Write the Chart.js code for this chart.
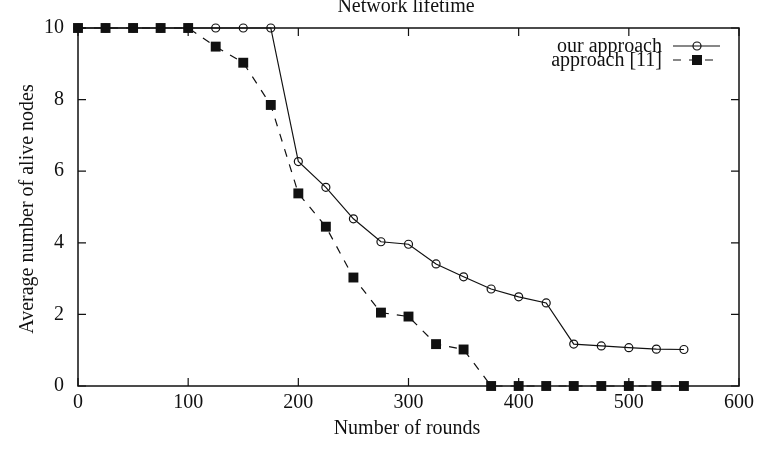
<!DOCTYPE html>
<html>
<head>
<meta charset="utf-8">
<script src="https://cdn.jsdelivr.net/npm/chart.js@4/dist/chart.umd.min.js"></script>
<style>
html,body{margin:0;padding:0;background:#fff;}
canvas{display:block;}
</style>
</head>
<body>
<canvas id="c" width="759" height="473"></canvas>
<script>
// ---- data ----
const rounds = [0,25,50,75,100,125,150,175,200,225,250,275,300,325,350,375,400,425,450,475,500,525,550];
const ourApproach = [10,10,10,10,10,10,10,10,6.27,5.55,4.67,4.03,3.96,3.41,3.05,2.71,2.49,2.32,1.17,1.12,1.07,1.03,1.02];
const approach11 = [10,10,10,10,10,9.48,9.03,7.85,5.38,4.45,3.03,2.05,1.94,1.17,1.02,0,0,0,0,0,0,0,0];
const seriesNames = ['our approach', 'approach [11]'];
const xTicks = [0,100,200,300,400,500,600];
const yTicks = [0,2,4,6,8,10];
const titleText = 'Network lifetime';
const xTitle = 'Number of rounds';
const yTitle = 'Average number of alive nodes';

const FONT = '"Liberation Serif", "Times New Roman", serif';
const INK = '#111';

const toPts = arr => arr.map((v, i) => ({x: rounds[i], y: v}));

const framePlugin = {
  id: 'frame',
  afterDatasetsDraw(chart) {
    const {ctx, chartArea: a, scales: {x, y}} = chart;
    ctx.save();
    ctx.strokeStyle = INK;
    ctx.lineWidth = 1.5;
    ctx.setLineDash([]);
    ctx.strokeRect(a.left, a.top, a.right - a.left, a.bottom - a.top);
    const L = 8;
    ctx.lineWidth = 1.2;
    ctx.beginPath();
    xTicks.forEach(v => {
      const px = x.getPixelForValue(v);
      ctx.moveTo(px, a.bottom); ctx.lineTo(px, a.bottom - L);
      ctx.moveTo(px, a.top); ctx.lineTo(px, a.top + L);
    });
    yTicks.forEach(v => {
      const py = y.getPixelForValue(v);
      ctx.moveTo(a.left, py); ctx.lineTo(a.left + L, py);
      ctx.moveTo(a.right, py); ctx.lineTo(a.right - L, py);
    });
    ctx.stroke();

    // titles
    ctx.fillStyle = INK;
    ctx.font = '20px ' + FONT;
    ctx.textAlign = 'center';
    ctx.textBaseline = 'alphabetic';
    ctx.fillText(titleText, 406, 12);
    ctx.fillText(xTitle, 407, 434);
    ctx.save();
    ctx.translate(33, 209);
    ctx.rotate(-Math.PI / 2);
    ctx.fillText(yTitle, 0, 0);
    ctx.restore();

    // legend
    const ds = chart.data.datasets;
    const rows = [46, 60];
    ctx.textAlign = 'right';
    ctx.textBaseline = 'middle';
    rows.forEach((ry, i) => {
      ctx.fillStyle = INK;
      ctx.fillText(seriesNames[i], 662, ry + 1);
      ctx.strokeStyle = INK;
      ctx.lineWidth = 1.2;
      ctx.setLineDash(ds[i].borderDash || []);
      ctx.beginPath();
      ctx.moveTo(673, ry); ctx.lineTo(720, ry);
      ctx.stroke();
      ctx.setLineDash([]);
      if (i === 0) {
        ctx.beginPath();
        ctx.arc(697, ry, 4, 0, Math.PI * 2);
        ctx.stroke();
      } else {
        ctx.fillRect(692, ry - 5, 10, 10);
      }
    });
    ctx.restore();
  }
};

new Chart(document.getElementById('c'), {
  type: 'line',
  data: {
    datasets: [
      {
        label: seriesNames[0],
        data: toPts(ourApproach),
        borderColor: INK,
        borderWidth: 1.2,
        pointStyle: 'circle',
        pointRadius: 4,
        pointBorderWidth: 1.2,
        pointBorderColor: INK,
        pointBackgroundColor: 'rgba(0,0,0,0)',
        fill: false,
        tension: 0,
        clip: false
      },
      {
        label: seriesNames[1],
        data: toPts(approach11),
        borderColor: INK,
        borderWidth: 1.2,
        borderDash: [8, 8],
        pointStyle: 'rect',
        pointRadius: 7,
        pointBorderWidth: 0,
        pointBorderColor: INK,
        pointBackgroundColor: INK,
        fill: false,
        tension: 0,
        clip: false
      }
    ]
  },
  options: {
    responsive: false,
    animation: false,
    devicePixelRatio: 1,
    layout: {padding: {left: 0, top: 28, right: 20, bottom: 0}},
    plugins: {legend: {display: false}, title: {display: false}, tooltip: {enabled: false}},
    scales: {
      x: {
        type: 'linear',
        min: 0, max: 600,
        afterBuildTicks: s => { s.ticks = xTicks.map(v => ({value: v})); },
        afterFit: s => { s.height = 87; },
        grid: {display: false, drawTicks: false},
        border: {display: false},
        ticks: {color: INK, font: {family: FONT, size: 20}, padding: 5, maxRotation: 0}
      },
      y: {
        type: 'linear',
        min: 0, max: 10,
        afterBuildTicks: s => { s.ticks = yTicks.map(v => ({value: v})); },
        afterFit: s => { s.width = 78; },
        grid: {display: false, drawTicks: false},
        border: {display: false},
        ticks: {color: INK, font: {family: FONT, size: 20}, padding: 14}
      }
    }
  },
  plugins: [framePlugin]
});
</script>
</body>
</html>
